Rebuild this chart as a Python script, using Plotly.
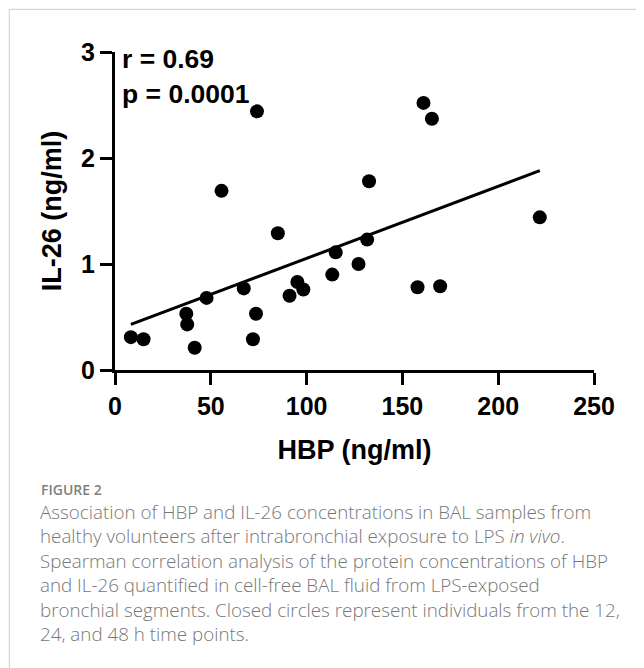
import plotly.graph_objects as go

# ---- data ----
hbp = [8.3, 14.9, 37.2, 37.7, 41.6, 47.8, 55.6, 67.2, 72.0, 73.6, 74.1, 85.0, 91.1,
       95.2, 98.3, 113.4, 115.2, 127.1, 131.6, 132.6, 157.9, 161.0, 165.4, 169.7, 221.7]
il26 = [0.31, 0.29, 0.53, 0.43, 0.21, 0.68, 1.69, 0.77, 0.29, 0.53, 2.44, 1.29, 0.70,
        0.83, 0.76, 0.90, 1.11, 1.00, 1.23, 1.78, 0.78, 2.52, 2.37, 0.79, 1.44]
fit_x = [8.3, 221.7]
fit_y = [0.43, 1.88]
x_ticks = [0, 50, 100, 150, 200, 250]
y_ticks = [0, 1, 2, 3]
stats_text = ["r = 0.69", "p = 0.0001"]
caption_title = "FIGURE 2"
caption_lines = [
    "Association of HBP and IL-26 concentrations in BAL samples from",
    "healthy volunteers after intrabronchial exposure to LPS <i>in vivo</i>.",
    "Spearman correlation analysis of the protein concentrations of HBP",
    "and IL-26 quantified in cell-free BAL fluid from LPS-exposed",
    "bronchial segments. Closed circles represent individuals from the 12,",
    "24, and 48 h time points.",
]

OFF = 8  # default page body margin
W, H = 644 - OFF, 668 - OFF
L, R, T, B = 114.8 - OFF, 594.3 - OFF, 51.7 - OFF, 370 - OFF  # plot area in pixels


def px(xp):
    return (xp - OFF - L) / (R - L)


def py(yp):
    return (B - (yp - OFF)) / (B - T)


FONT = "Liberation Sans, Arial, sans-serif"
CAP_FONT = "Open Sans, sans-serif"

fig = go.Figure()
fig.add_trace(go.Scatter(x=fit_x, y=fit_y, mode="lines",
                         line=dict(color="black", width=3), showlegend=False))
fig.add_trace(go.Scatter(x=hbp, y=il26, mode="markers",
                         marker=dict(color="black", size=14), showlegend=False))

axis_common = dict(showline=True, linecolor="black", linewidth=3, ticks="outside",
                   ticklen=12, tickwidth=3, tickcolor="black", showgrid=False,
                   zeroline=False,
                   tickfont=dict(family=FONT, size=25, color="black", weight="bold"))
fig.update_xaxes(range=[0, 250], tickvals=x_ticks, **axis_common,
                 title=dict(text="HBP (ng/ml)", standoff=22,
                            font=dict(family=FONT, size=27, color="black", weight="bold")))
fig.update_yaxes(range=[0, 3], tickvals=y_ticks, **axis_common,
                 title=dict(text="IL-26 (ng/ml)", standoff=12,
                            font=dict(family=FONT, size=27, color="black", weight="bold")))

annotations = []
for i, t in enumerate(stats_text):
    annotations.append(dict(text=t, x=px(120), y=py(59 + 35 * i), xref="paper", yref="paper",
                            xanchor="left", yanchor="middle", showarrow=False,
                            font=dict(family=FONT, size=26.5, color="black", weight="bold")))
annotations.append(dict(text=caption_title, x=px(39), y=py(490), xref="paper", yref="paper",
                        xanchor="left", yanchor="middle", showarrow=False,
                        font=dict(family=CAP_FONT, size=14, color="#808080", weight=600)))
annotations.append(dict(text="<br>".join(caption_lines), x=px(38), y=py(497.5), xref="paper",
                        yref="paper", xanchor="left", yanchor="top", align="left",
                        showarrow=False,
                        font=dict(family=CAP_FONT, size=18.8, color="#777777", weight=300)))

shapes = [
    dict(type="line", xref="paper", yref="paper", x0=px(9), x1=px(644), y0=py(9), y1=py(9),
         line=dict(color="#cccccc", width=1)),
    dict(type="line", xref="paper", yref="paper", x0=px(9), x1=px(9), y0=py(9), y1=py(668),
         line=dict(color="#cccccc", width=1)),
]

fig.update_layout(width=W, height=H, margin=dict(l=L, r=W - R, t=T, b=H - B),
                  plot_bgcolor="white", paper_bgcolor="white",
                  annotations=annotations, shapes=shapes, showlegend=False)

fig.write_html("out.html")
